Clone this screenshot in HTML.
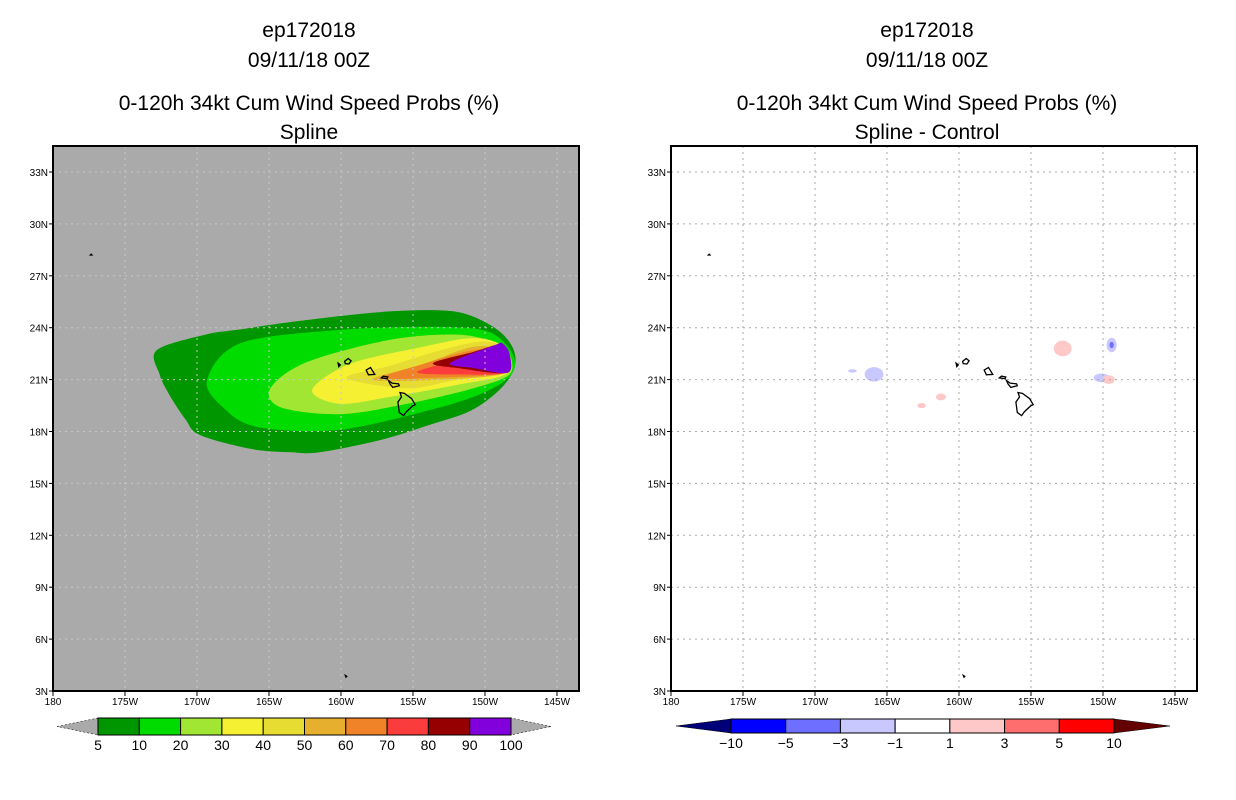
<!DOCTYPE html>
<html><head><meta charset="utf-8"><style>
html,body{margin:0;padding:0;background:#fff;}
svg{display:block;font-family:"Liberation Sans",sans-serif;}
</style></head><body>
<svg id="s" width="1236" height="800"></svg>
<script>
// ---- data ----
const lonTicks=[180,175,170,165,160,155,150,145];
const latTicks=[3,6,9,12,15,18,21,24,27,30,33];
const probLevels=[5,10,20,30,40,50,60,70,80,90,100];
const probColors=['#009600','#00dc00','#a0e632','#f5f032','#e6dc32','#e6af2d','#f08228','#fa3c3c','#960000','#8200dc'];
const diffLevels=[-10,-5,-3,-1,1,3,5,10];
const diffColors=['#000078','#0000ff','#6e6eff','#c8c8ff','#ffffff','#ffc8c8','#ff6e6e','#ff0000','#640000'];
// contour polygons [lonW, lat]
const c5=[[172.8,22.7],[169.4,23.6],[167.0,23.9],[162.8,24.4],[157.3,24.9],[153.1,25.0],[151.0,24.7],[149.0,23.8],[148.0,22.7],[148.0,21.6],[149.0,20.4],[151.0,19.2],[153.8,18.4],[157.3,17.5],[161.5,16.8],[163.5,16.8],[166.3,17.0],[169.8,17.8],[170.8,18.7],[171.9,20.1],[172.6,21.3]];
const c10=[[169.3,20.97],[167.0,23.1],[160.1,23.87],[153.1,24.04],[149.7,23.75],[148.1,22.5],[148.1,21.38],[149.7,20.4],[153.1,19.4],[160.1,18.1],[165.8,18.26],[168.2,19.4]];
const c20=[[164.9,20.5],[162.4,22.0],[156.6,23.3],[151.9,23.6],[149.1,23.1],[148.3,22.5],[148.3,21.3],[150.8,20.5],[155.4,19.6],[160.1,19.0],[164.2,19.4]];
const c30=[[162.0,20.4],[159.4,21.9],[154.3,22.9],[150.8,23.4],[148.75,22.9],[148.4,21.4],[151.9,20.7],[156.6,20.0],[160.1,19.6]];
const c40=[[159.6,21.1],[156.6,21.8],[153.1,22.7],[150.1,23.2],[148.6,22.7],[148.5,21.4],[151.9,21.0],[155.4,20.5]];
const c50=[[157.8,21.0],[154.3,21.9],[150.8,22.9],[148.75,22.6],[148.6,21.4],[153.1,21.0]];
const c60=[[157.1,21.1],[154.7,21.8],[150.8,22.7],[148.75,22.5],[148.6,21.4],[153.8,21.1]];
const c70=[[154.7,21.4],[153.1,21.9],[149.4,22.9],[148.6,22.5],[148.6,21.4],[151.9,21.3]];
const c80=[[153.6,21.96],[150.8,22.6],[149.1,23.0],[148.5,22.5],[148.5,21.4],[151.9,21.67]];
const c90=[[152.4,21.96],[149.3,23.0],[148.8,23.1],[148.3,22.5],[148.4,21.4],[150.8,21.67]];
const contours=[c5,c10,c20,c30,c40,c50,c60,c70,c80,c90];
// difference blobs: lonW, lat, rx(deg), ry(deg), color index
const blobLon=[165.9,167.4,161.25,162.6,152.8,149.4,149.4,150.1,149.6];
const blobLat=[21.3,21.5,20.0,19.5,22.8,23.0,23.0,21.1,21.0];
const blobRx=[0.65,0.3,0.35,0.3,0.62,0.35,0.15,0.55,0.42];
const blobRy=[0.42,0.1,0.2,0.15,0.45,0.42,0.18,0.25,0.25];
const blobC=[3,3,5,5,5,3,2,3,5];
// islands
const islands=[
 [[155.9,20.25],[155.8,20.0],[156.05,19.7],[155.95,19.1],[155.65,18.92],[155.45,19.15],[155.0,19.5],[154.85,19.55],[155.1,19.9],[155.6,20.2]],
 [[156.7,20.95],[156.45,20.8],[156.0,20.75],[155.95,20.65],[156.4,20.55],[156.6,20.75]],
 [[157.05,21.2],[156.75,21.15],[156.8,21.05],[157.2,21.1]],
 [[158.25,21.55],[157.95,21.7],[157.65,21.3],[158.1,21.28]],
 [[159.75,22.05],[159.5,22.22],[159.3,22.08],[159.45,21.9],[159.7,21.92]],
 [[160.2,21.95],[160.05,21.85],[160.15,21.75]],
 [[177.4,28.2],[177.35,28.25],[177.3,28.2]],
 [[159.7,3.9],[159.6,3.85],[159.65,3.8]]
];
// ---- drawing ----
const NS='http://www.w3.org/2000/svg';
const svg=document.getElementById('s');
function el(t,a,p){const e=document.createElementNS(NS,t);for(const k in a)e.setAttribute(k,a[k]);(p||svg).appendChild(e);return e;}
const PW=526,PH=545,Y0=146,PXD=14.4,PYD=17.3;
function xs(x0,lonW){return x0+(180-lonW)*PXD;}
function ys(lat){return 691-(lat-3)*PYD;}
function pts(x0,arr){return arr.map(p=>xs(x0,p[0]).toFixed(1)+','+ys(p[1]).toFixed(1)).join(' ');}
function smooth(x0,arr){
  const P=arr.map(p=>[xs(x0,p[0]),ys(p[1])]);const n=P.length;
  let d='M'+P[0][0].toFixed(1)+','+P[0][1].toFixed(1);
  for(let i=0;i<n;i++){const p0=P[(i-1+n)%n],p1=P[i],p2=P[(i+1)%n],p3=P[(i+2)%n];const k=0.16;
    const a=[p1[0]+(p2[0]-p0[0])*k,p1[1]+(p2[1]-p0[1])*k],b=[p2[0]-(p3[0]-p1[0])*k,p2[1]-(p3[1]-p1[1])*k];
    d+=`C${a[0].toFixed(1)},${a[1].toFixed(1)} ${b[0].toFixed(1)},${b[1].toFixed(1)} ${p2[0].toFixed(1)},${p2[1].toFixed(1)}`;}
  return d+'Z';
}
function panel(x0,cx,name,sub,left){
  const g=el('g',{});
  
  
  const titles=['ep172018','09/11/18 00Z','0-120h 34kt Cum Wind Speed Probs (%)',sub];
  const ty=[37,67,110,139];
  titles.forEach((t,i)=>{const e=el('text',{x:cx,y:ty[i],'text-anchor':'middle','font-size':21,fill:'#000'},g);e.textContent=t;
    });
  const cp='clip'+x0;
  const cl=el('clipPath',{id:cp},g);el('rect',{x:x0,y:Y0,width:PW,height:PH},cl);
  const bg=el('rect',{x:x0,y:Y0,width:PW,height:PH,fill:left?'#aaaaaa':'#ffffff'},g);
  
  const m=el('g',{'clip-path':'url(#'+cp+')'},g);
  if(left){
    contours.forEach((c,i)=>{const p=el('path',{d:smooth(x0,c),fill:probColors[i]},m);
      });
  }else{
    blobLon.forEach((lo,i)=>{const e=el('ellipse',{cx:xs(x0,lo),cy:ys(blobLat[i]),rx:blobRx[i]*PXD,ry:blobRy[i]*PYD,fill:diffColors[blobC[i]]},m);
      });
  }
  lonTicks.forEach(l=>{const x=xs(x0,l);if(l<180)el('line',{x1:x,y1:Y0,x2:x,y2:Y0+PH,stroke:left?'#c8c8c8':'#aaaaaa','stroke-dasharray':'2,4','stroke-width':1},m);});
  latTicks.forEach(l=>{const y=ys(l);if(l>3)el('line',{x1:x0,y1:y,x2:x0+PW,y2:y,stroke:left?'#c8c8c8':'#aaaaaa','stroke-dasharray':'2,4','stroke-width':1},m);});
  islands.forEach(is=>{const p=el('polygon',{points:pts(x0,is),fill:'none',stroke:'#000','stroke-width':1.3},m);
    });
  el('rect',{x:x0,y:Y0,width:PW,height:PH,fill:'none',stroke:'#000','stroke-width':2},g);
  lonTicks.forEach(l=>{const x=xs(x0,l);el('line',{x1:x,y1:691,x2:x,y2:696,stroke:'#000'},g);
    const t=el('text',{x:x,y:705,'text-anchor':'middle','font-size':10},g);t.textContent=l==180?'180':l+'W';
    });
  latTicks.forEach(l=>{const y=ys(l);el('line',{x1:x0-4,y1:y,x2:x0,y2:y,stroke:'#000'},g);
    const t=el('text',{x:x0-5,y:y+4,'text-anchor':'end','font-size':10},g);t.textContent=l+'N';
    });
}
panel(53,309,'probability-map','Spline',true);
panel(671,927,'difference-map','Spline - Control',false);
function colorbar(name,x0,x1,tipL,tipR,yT,yB,cols,labels,tipCols){
  const g=el('g',{});
  const n=cols.length,w=(x1-x0)/n,ym=(yT+yB)/2;
  el('polygon',{points:`${tipL},${ym} ${x0},${yT} ${x0},${yB}`,fill:tipCols[0],stroke:'#000','stroke-width':0.5,'stroke-dasharray':tipCols[0]=='#aaaaaa'?'2,2':''},g);
  el('polygon',{points:`${tipR},${ym} ${x1},${yT} ${x1},${yB}`,fill:tipCols[1],stroke:'#000','stroke-width':0.5,'stroke-dasharray':tipCols[1]=='#aaaaaa'?'2,2':''},g);
  cols.forEach((c,i)=>{const r=el('rect',{x:x0+i*w,y:yT,width:w,height:yB-yT,fill:c,stroke:'#000','stroke-width':1},g);
    });
  labels.forEach((l,i)=>{const t=el('text',{x:x0+i*w,y:yB+15,'text-anchor':'middle','font-size':14},g);t.textContent=String(l).replace('-','\u2212');
    });
}
colorbar('probability-colorbar',98,511,57,551,718,735,probColors,probLevels,['#aaaaaa','#aaaaaa']);
colorbar('difference-colorbar',731,1114,676,1170,719,733,diffColors.slice(1,8),diffLevels,[diffColors[0],diffColors[8]]);
</script>
</body></html>
